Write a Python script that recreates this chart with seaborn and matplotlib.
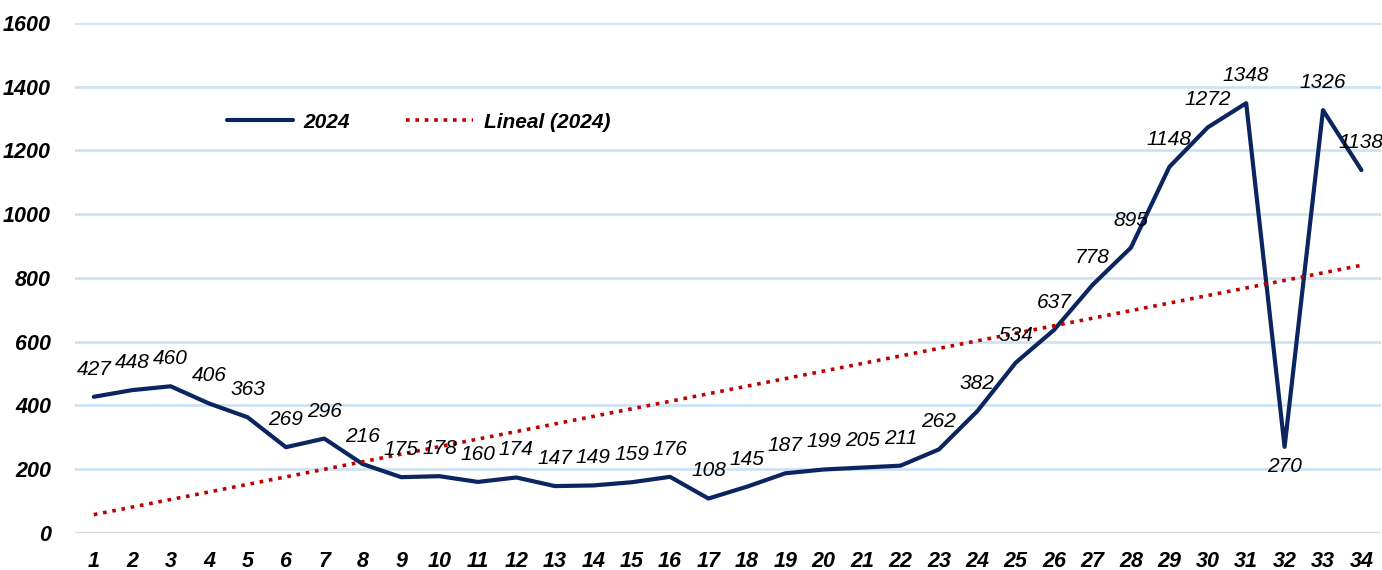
import matplotlib
matplotlib.use("Agg")
import matplotlib.pyplot as plt
import seaborn as sns
import numpy as np
import pandas as pd

# weekly values, 2024
weeks = list(range(1, 35))
values_2024 = [427, 448, 460, 406, 363, 269, 296, 216, 175, 178, 160, 174, 147, 149,
               159, 176, 108, 145, 187, 199, 205, 211, 262, 382, 534, 637, 778, 895,
               1148, 1272, 1348, 270, 1326, 1138]
y_ticks = [0, 200, 400, 600, 800, 1000, 1200, 1400, 1600]

df = pd.DataFrame({"semana": weeks, "valor": values_2024})

sns.set_theme(style="white")
plt.rcParams["font.family"] = ["Liberation Sans", "DejaVu Sans"]
plt.rcParams["text.color"] = "black"
plt.rcParams["xtick.color"] = "black"
plt.rcParams["ytick.color"] = "black"

fig = plt.figure(figsize=(13.82, 5.70), dpi=100)
ax = fig.add_axes([0.054, 0.065, 0.945, 0.895])

navy = "#0b2561"
red = "#c00000"

sns.lineplot(data=df, x="semana", y="valor", ax=ax, color=navy, linewidth=3,
             label="2024")

# linear trend line
coef = np.polyfit(df["semana"], df["valor"], 1)
trend = np.polyval(coef, df["semana"])
ax.plot(df["semana"], trend, linestyle=(0, (1, 1.6)), color=red, linewidth=2.6,
        label="Lineal (2024)")

# data labels
for x, v in zip(weeks, values_2024):
    if x == 32:
        ax.annotate(str(v), (x, v), xytext=(0, -7), textcoords="offset points",
                    ha="center", va="top", fontsize=15, style="italic")
    else:
        ax.annotate(str(v), (x, v), xytext=(0, 13), textcoords="offset points",
                    ha="center", va="bottom", fontsize=15, style="italic")

ax.set_xlim(0.5, 34.5)
ax.set_ylim(0, 1600)
ax.set_yticks(y_ticks)
ax.set_xticks(weeks)
ax.set_xticklabels([str(w) for w in weeks])
ax.set_xlabel("")
ax.set_ylabel("")

ax.grid(axis="y", color="#cfe2f3", linewidth=2)
ax.grid(axis="x", visible=False)
ax.axhline(0, color="#d9d9d9", linewidth=2.5, zorder=1)
for s in ax.spines.values():
    s.set_visible(False)

ax.tick_params(axis="both", length=0, labelsize=15.5)
ax.tick_params(axis="x", pad=13)
ax.tick_params(axis="y", pad=17)
for lab in ax.get_xticklabels() + ax.get_yticklabels():
    lab.set_fontweight("bold")
    lab.set_fontstyle("italic")

leg = ax.legend(loc="center left", bbox_to_anchor=(0.102, 0.805), ncol=2, frameon=False,
                handlelength=3.2, columnspacing=2.7, handletextpad=0.5,
                prop={"weight": "bold", "style": "italic", "size": 15})

fig.savefig("out.png", dpi=100)
